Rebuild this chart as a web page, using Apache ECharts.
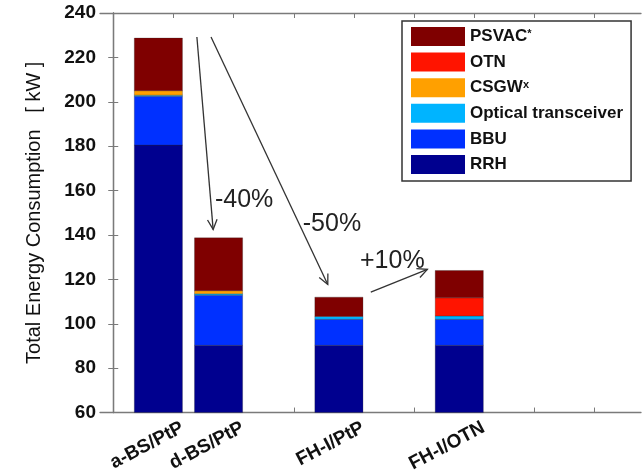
<!DOCTYPE html>
<html>
<head>
<meta charset="utf-8">
<script src="https://cdn.jsdelivr.net/npm/echarts@6/dist/echarts.min.js"></script>
<style>html,body{margin:0;padding:0;background:#fff}#c{width:644px;height:475px}</style>
</head>
<body>
<div id="c"></div>
<script>
// ---- data ----
const categories = ['a-BS/PtP', 'd-BS/PtP', 'FH-I/PtP', 'FH-I/OTN'];
const labelPos = [1.15, 2.15, 4.15, 6.15];  // x positions of the category labels
const barPos = [0.75, 1.75, 3.75, 5.75];     // bar centres on the x scale
const tickPos = [1, 2, 3, 4, 5, 6, 7, 8];
const yTicks = [60, 80, 100, 120, 140, 160, 180, 200, 220, 240];

const RRH     = [180.5, 90.3, 90.3, 90.3];
const BBU     = [22.0, 22.6, 11.7, 11.7];
const Optical = [0.5, 0.6, 1.3, 1.5];
const CSGW    = [2.0, 1.4, 0, 0];
const OTN     = [0, 0, 0, 8.2];
const PSVAC   = [23.7, 23.8, 8.7, 12.3];

const seriesNames = ['RRH', 'BBU', 'Optical transceiver', 'CSGW', 'OTN', 'PSVAC'];
const seriesValues = [RRH, BBU, Optical, CSGW, OTN, PSVAC];
const seriesColors = ['#00008f', '#0030ff', '#00b4ff', '#ffa000', '#ff1400', '#7f0000'];
const legendOrder = ['PSVAC', 'OTN', 'CSGW', 'Optical transceiver', 'BBU', 'RRH'];
const barWidthUnits = 0.8;

// annotations (data coordinates)
const arrows = [
  { from: [1.39, 229.2], to: [1.66, 142.5] },
  { from: [1.625, 229.2], to: [3.565, 117.7] },
  { from: [4.28, 114.3], to: [5.22, 124.5] }
];
const notes = [
  { text: '-40%', at: [1.69, 155.5] },
  { text: '-50%', at: [3.15, 144.7] },
  { text: '+10%', at: [4.10, 128.1] }
];

const chart = echarts.init(document.getElementById('c'), null, { renderer: 'canvas' });
const axisGray = '#7a7a7a';
const xMin = -0.22, xMax = 8.77;

// stacked segments [x, base, top]
const running = barPos.map(() => 0);
const series = seriesNames.map((n, i) => {
  const data = barPos.map((x, j) => {
    const b = running[j];
    running[j] = b + seriesValues[i][j];
    return [x, b, running[j]];
  });
  return {
    name: n,
    type: 'custom',
    xAxisIndex: 0, yAxisIndex: 0,
    itemStyle: { color: seriesColors[i] },
    encode: { x: 0, y: [1, 2] },
    data: data,
    renderItem: function (params, api) {
      const x = api.value(0), y0 = api.value(1), y1 = api.value(2);
      if (y1 - y0 <= 0) return null;
      const pA = api.coord([x, y0]);
      const pB = api.coord([x, y1]);
      const w = api.size([barWidthUnits, 0])[0];
      const rect = echarts.graphic.clipRectByRect(
        { x: pA[0] - w / 2, y: pB[1], width: w, height: pA[1] - pB[1] },
        { x: params.coordSys.x, y: params.coordSys.y, width: params.coordSys.width, height: params.coordSys.height }
      );
      if (!rect) return null;
      return { type: 'rect', shape: rect, style: { fill: seriesColors[i], stroke: 'rgba(40,40,40,0.55)', lineWidth: 0.5 } };
    }
  };
});

chart.setOption({
  animation: false,
  backgroundColor: '#fff',
  grid: { left: 100, right: 3, top: 13, bottom: 62 },
  legend: {
    data: legendOrder,
    orient: 'vertical',
    left: 402, top: 21,
    itemWidth: 54, itemHeight: 19, itemGap: 6.6,
    padding: [6, 8, 7, 9],
    borderColor: '#333', borderWidth: 1.5, backgroundColor: '#fff',
    icon: 'rect',
    formatter: function (n) {
      if (n === 'PSVAC') return 'PSVAC{sup|*}';
      if (n === 'CSGW') return 'CSGW{sup|x}';
      return n;
    },
    textStyle: {
      fontFamily: 'Liberation Sans', fontWeight: 'bold', fontSize: 17, color: '#111',
      rich: { sup: { fontFamily: 'Liberation Sans', fontWeight: 'bold', fontSize: 11, verticalAlign: 'top', color: '#111' } }
    }
  },
  xAxis: [
    {
      type: 'value', position: 'bottom', min: xMin, max: xMax,
      splitLine: { show: false },
      axisLine: { lineStyle: { color: axisGray, width: 1.3 } },
      axisTick: { inside: true, length: 5, customValues: tickPos, lineStyle: { color: axisGray } },
      axisLabel: {
        customValues: labelPos, rotate: 28, margin: 14,
        fontFamily: 'Liberation Sans', fontWeight: 'bold', fontSize: 19, color: '#111',
        formatter: v => { const k = labelPos.indexOf(v); return k >= 0 ? categories[k] : ''; }
      }
    },
    {
      type: 'value', position: 'top', min: xMin, max: xMax,
      splitLine: { show: false },
      axisLine: { lineStyle: { color: axisGray, width: 1.3 } },
      axisTick: { inside: true, length: 5, customValues: tickPos, lineStyle: { color: axisGray } },
      axisLabel: { show: false }
    }
  ],
  yAxis: [
    {
      type: 'value', position: 'left', min: 60, max: 240, interval: 20,
      splitLine: { show: false },
      axisLine: { show: true, lineStyle: { color: axisGray, width: 1.3 } },
      axisTick: { show: true, inside: true, length: 5, lineStyle: { color: axisGray } },
      axisLabel: {
        fontFamily: 'Liberation Sans', fontWeight: 'bold', fontSize: 19, color: '#111', margin: 4,
        formatter: v => (yTicks.indexOf(v) >= 0 ? String(v) : '')
      },
      name: 'Total Energy Consumption   [ kW ]',
      nameLocation: 'middle', nameGap: 56,
      nameTextStyle: { fontFamily: 'Liberation Sans', fontSize: 20, color: '#111' }
    },
    {
      type: 'value', position: 'right', min: 60, max: 240, interval: 20,
      splitLine: { show: false },
      axisLine: { show: true, lineStyle: { color: axisGray, width: 1.3 } },
      axisTick: { show: true, inside: true, length: 5, lineStyle: { color: axisGray } },
      axisLabel: { show: false }
    }
  ],
  series: series
});

// annotations via the chart's own coordinate conversion
function px(p) { return chart.convertToPixel({ xAxisIndex: 0, yAxisIndex: 0 }, p); }
const graphics = [];
arrows.forEach(a => {
  const p0 = px(a.from), p1 = px(a.to);
  const ang = Math.atan2(p1[1] - p0[1], p1[0] - p0[0]);
  const L = 11, h = 0.45;
  const h1 = [p1[0] - L * Math.cos(ang - h), p1[1] - L * Math.sin(ang - h)];
  const h2 = [p1[0] - L * Math.cos(ang + h), p1[1] - L * Math.sin(ang + h)];
  graphics.push({ type: 'line', z: 100, shape: { x1: p0[0], y1: p0[1], x2: p1[0], y2: p1[1] }, style: { stroke: '#333', lineWidth: 1.3 } });
  graphics.push({ type: 'polyline', z: 100, shape: { points: [h1, p1, h2] }, style: { stroke: '#333', lineWidth: 1.3, fill: null } });
});
notes.forEach(n => {
  const p = px(n.at);
  graphics.push({ type: 'text', z: 100, x: p[0], y: p[1], style: { text: n.text, fill: '#222', font: '25px "Liberation Sans"', textVerticalAlign: 'middle', textAlign: 'left' } });
});
chart.setOption({ graphic: graphics });
</script>
</body>
</html>
